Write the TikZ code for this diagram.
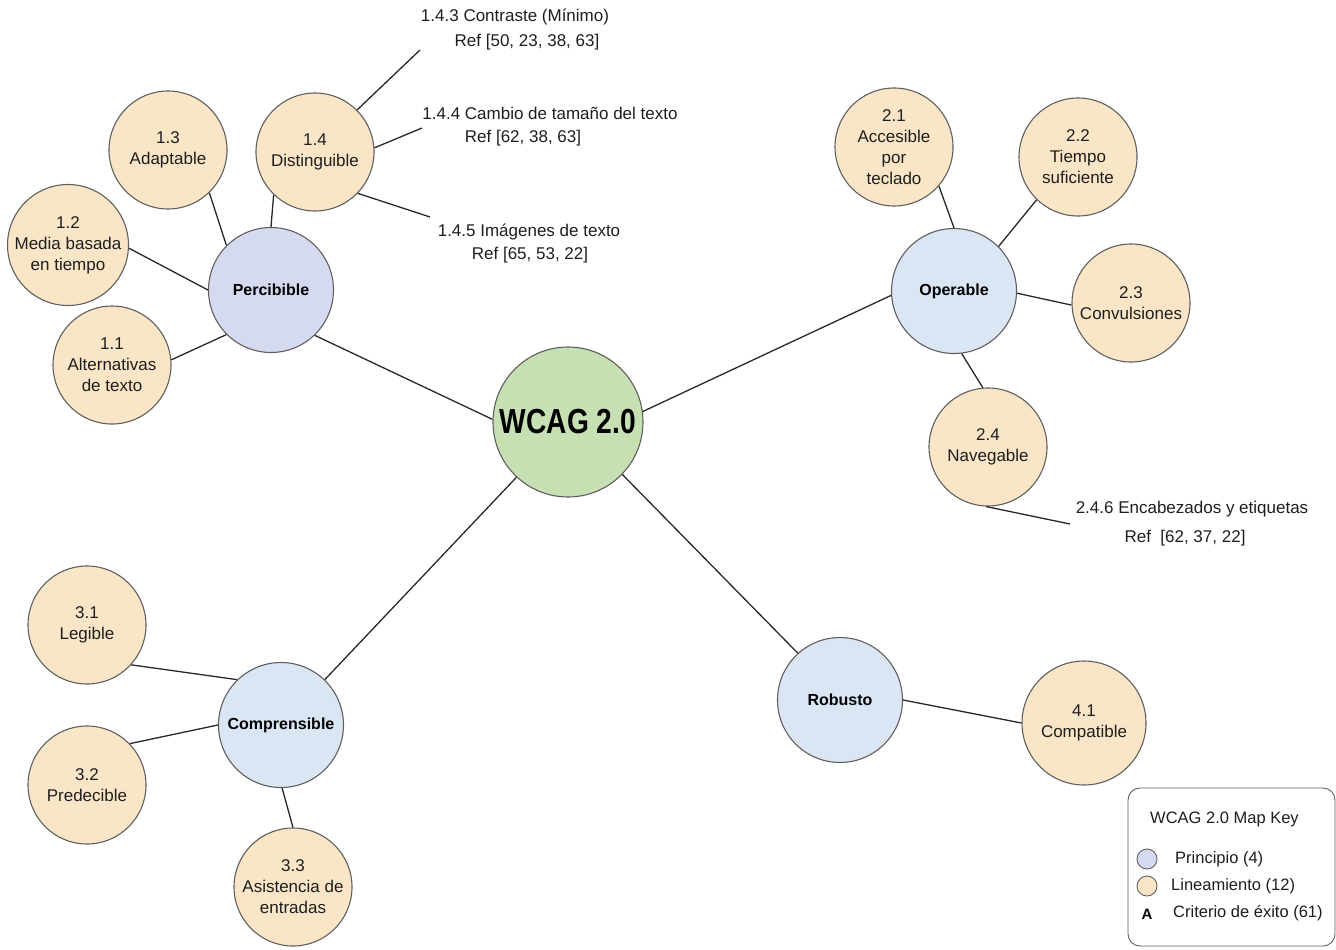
\documentclass[tikz,border=0pt]{standalone}
\usepackage{fontspec}
\setmainfont{Liberation Sans}
\definecolor{leaffill}{RGB}{250,230,198}
\definecolor{percfill}{RGB}{214,218,240}
\definecolor{princfill}{RGB}{218,230,244}
\definecolor{hubfill}{RGB}{198,224,180}
\definecolor{rim}{RGB}{95,95,95}
\definecolor{wire}{RGB}{40,40,40}
\definecolor{ink}{RGB}{30,30,30}
\tikzset{
  leaf/.style={circle, draw=rim, line width=1.1pt, fill=leaffill, minimum size=118pt,
    inner sep=0pt, align=center, text=ink, font=\fontsize{17}{21}\selectfont},
  princ/.style={circle, draw=rim, line width=1.1pt, fill=princfill, minimum size=125pt,
    inner sep=0pt, align=center, text=black, font=\fontsize{16}{20}\selectfont\bfseries},
  hub/.style={circle, draw=rim, line width=1.1pt, fill=hubfill, minimum size=150pt,
    inner sep=0pt, text=black, font=\fontsize{30}{36}\selectfont\bfseries},
  crit/.style={inner sep=0pt, text=ink, font=\fontsize{17}{21}\selectfont},
  keytext/.style={inner sep=0pt, anchor=west, text=ink, font=\fontsize{16.5}{20}\selectfont},
  keydot/.style={circle, draw=rim, line width=0.9pt, minimum size=20pt, inner sep=0pt},
  conn/.style={draw=wire, line width=1.3pt},
}
\begin{document}
\begin{tikzpicture}[x=1pt, y=-1pt]
\useasboundingbox (0,0) rectangle (1336,950);

% centre and principles
\node[hub] (wcag) at (568,422) {\scalebox{0.94}[1.16]{WCAG 2.0}};
\node[princ, fill=percfill] (perc) at (271,290) {Percibible};
\node[princ] (oper) at (954,291) {Operable};
\node[princ] (comp) at (281,725) {Comprensible};
\node[princ] (rob) at (840,700) {Robusto};

% guidelines
\node[leaf] (g11) at (112,365) {1.1\\Alternativas\\de texto};
\node[leaf] (g12) at (68,245) {1.2\\Media basada\\en tiempo};
\node[leaf] (g13) at (168,150) {1.3\\Adaptable};
\node[leaf] (g14) at (315,152) {1.4\\Distinguible};
\node[leaf] (g21) at (894,147) {2.1\\Accesible\\por\\teclado};
\node[leaf] (g22) at (1078,157) {2.2\\Tiempo\\suficiente};
\node[leaf] (g23) at (1131,303) {2.3\\Convulsiones};
\node[leaf] (g24) at (988,447) {2.4\\Navegable};
\node[leaf] (g31) at (87,625) {3.1\\Legible};
\node[leaf] (g32) at (87,785) {3.2\\Predecible};
\node[leaf] (g33) at (293,887) {3.3\\Asistencia de\\entradas};
\node[leaf, minimum size=124pt] (g41) at (1084,723) {4.1\\Compatible};

% success criteria
\node[crit] (c143a) at (515,17) {1.4.3 Contraste (Mínimo)};
\node[crit] (c143b) at (527,42) {Ref [50, 23, 38, 63]};
\node[crit] (c144a) at (550,113) {1.4.4 Cambio de tamaño del texto};
\node[crit] (c144b) at (523,138) {Ref [62, 38, 63]};
\node[crit] (c145a) at (529,232) {1.4.5 Imágenes de texto};
\node[crit] (c145b) at (530,255) {Ref [65, 53, 22]};
\node[crit] (c246a) at (1192,509) {2.4.6 Encabezados y etiquetas};
\node[crit] (c246b) at (1185,538) {Ref\ \ [62, 37, 22]};

\coordinate (e143) at (420,50);
\coordinate (e144) at (422,128);
\coordinate (e145) at (430,217);
\coordinate (e246) at (1070,524);

% connectors: centre to principles
\draw[conn] (wcag.178) -- (perc.314);
\draw[conn] (wcag.8) -- (oper.184);
\draw[conn] (wcag.227) -- (comp.46);
\draw[conn] (wcag.316) -- (rob.132);

% principles to guidelines
\draw[conn] (perc.225) -- (g11.5);
\draw[conn] (perc.180) -- (g12.357);
\draw[conn] (perc.135) -- (g13.314);
\draw[conn] (perc.90) -- (g14.226);
\draw[conn] (oper.90) -- (g21.319);
\draw[conn] (oper.45) -- (g22.226);
\draw[conn] (oper.358) -- (g23.182);
\draw[conn] (oper.277) -- (g24.95);
\draw[conn] (comp.134) -- (g31.318);
\draw[conn] (comp.180) -- (g32.44);
\draw[conn] (comp.271) -- (g33.90);
\draw[conn] (rob.0) -- (g41.180);

% guidelines to success criteria
\draw[conn] (g14.45) -- (e143);
\draw[conn] (g14.4) -- (e144);
\draw[conn] (g14.316) -- (e145);
\draw[conn] (g24.268) -- (e246);

% key
\draw[draw=rim, line width=0.9pt, rounded corners=12pt, fill=white] (1128,788) rectangle (1335,946);
\node[keytext] (ktitle) at (1150,819) {WCAG 2.0 Map Key};
\node[keydot, fill=percfill] (kdot1) at (1147,859) {};
\node[keytext] (kprin) at (1175,859) {Principio (4)};
\node[keydot, fill=leaffill] (kdot2) at (1147,886) {};
\node[keytext] (klin) at (1171,886) {Lineamiento (12)};
\node[inner sep=0pt, text=black, font=\fontsize{15}{18}\selectfont\bfseries] (ka) at (1147,914) {A};
\node[keytext] (kcrit) at (1173,913) {Criterio de éxito (61)};
\end{tikzpicture}
\end{document}
